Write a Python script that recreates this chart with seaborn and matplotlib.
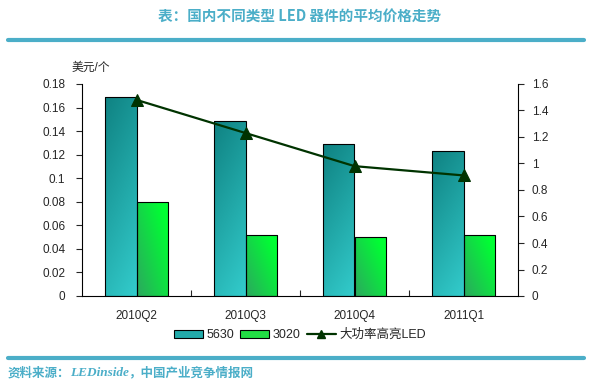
import numpy as np
import pandas as pd
import matplotlib
matplotlib.use("Agg")
import matplotlib.pyplot as plt
import seaborn as sns
from matplotlib.colors import LinearSegmentedColormap
from matplotlib.patches import Patch
from matplotlib.lines import Line2D

# dati
quarters = ["2010Q2", "2010Q3", "2010Q4", "2011Q1"]
price_5630 = [0.169, 0.149, 0.129, 0.123]
price_3020 = [0.080, 0.052, 0.050, 0.052]
price_hp = [1.48, 1.23, 0.98, 0.91]
series_names = ["5630", "3020", "大功率高亮LED"]

teal = "#4BAEC8"

sns.set_style("white")
plt.rcParams["font.family"] = ["Liberation Sans", "Noto Sans CJK SC"]

df = pd.DataFrame({
    "quarter": quarters * 2,
    "price": price_5630 + price_3020,
    "type": [series_names[0]] * 4 + [series_names[1]] * 4,
})

fig = plt.figure(figsize=(5.92, 3.91), dpi=100)
ax = fig.add_axes([82 / 592, 1 - 296 / 391, 436 / 592, 212 / 391])

sns.barplot(data=df, x="quarter", y="price", hue="type", width=0.57,
            palette=["#22AAAA", "#22DD44"], edgecolor="black", linewidth=0.8,
            legend=False, ax=ax)

# gradienti sulle barre
cmap_a = LinearSegmentedColormap.from_list("a", ["#0F8282", "#33CCCC"])
cmap_b = LinearSegmentedColormap.from_list("b", ["#339966", "#00FF33"])
uu, vv = np.meshgrid(np.linspace(0, 1, 40), np.linspace(0, 1, 200))
for i, bar in enumerate(ax.patches):
    x0, y0 = bar.get_x(), bar.get_y()
    w, h = bar.get_width(), bar.get_height()
    if h <= 0:
        continue
    if i < len(quarters):
        grad = 0.75 * vv + 0.25 * uu      # scuro in alto a sinistra
        cmap = cmap_a
    else:
        grad = 0.45 * (1 - vv) + 0.55 * uu + 0.15  # chiaro in alto a destra
        cmap = cmap_b
    im = ax.imshow(np.clip(grad, 0, 1), cmap=cmap, vmin=0, vmax=1,
                   extent=[x0, x0 + w, y0, y0 + h],
                   origin="upper", aspect="auto", zorder=1.5, interpolation="bilinear")
    im.set_clip_path(bar)
    bar.set_facecolor("none")
    bar.set_zorder(2)

ax.set_xlim(-0.5, 3.5)
ax.set_ylim(0, 0.18)
ax.set_yticks(np.arange(0, 0.181, 0.02))
ax.set_yticklabels(["0"] + [f"{v:g}" for v in np.arange(0.02, 0.181, 0.02)])
ax.set_xlabel("")
ax.set_ylabel("")
ax.set_xticks([0, 1, 2, 3])
ax.set_xticklabels(quarters)
ax.set_xticks([0.5, 1.5, 2.5], minor=True)
ax.tick_params(axis="x", which="major", length=0, pad=10, labelsize=8.5)
ax.tick_params(axis="x", which="minor", direction="in", length=4, width=0.8, bottom=True)
ax.tick_params(axis="y", direction="out", length=4, width=0.8, left=True, labelsize=8.5, pad=8)
for s in ["left", "bottom"]:
    ax.spines[s].set_color("black")
    ax.spines[s].set_linewidth(0.8)
ax.spines["top"].set_visible(False)
ax.spines["right"].set_visible(False)

ax2 = ax.twinx()
sns.lineplot(x=np.arange(len(quarters)), y=price_hp, color="#003300", linewidth=1.6,
             marker="^", markersize=8, markeredgecolor="#003300", ax=ax2)
ax2.set_ylim(0, 1.6)
ax2.set_yticks(np.arange(0, 1.61, 0.2))
ax2.set_yticklabels(["0"] + [f"{v:g}" for v in np.arange(0.2, 1.61, 0.2)])
ax2.tick_params(axis="y", direction="out", length=4, width=0.8, right=True, labelsize=8.5, pad=6)
ax2.spines["right"].set_color("black")
ax2.spines["right"].set_linewidth(0.8)
for s in ["left", "top", "bottom"]:
    ax2.spines[s].set_visible(False)
ax2.set_xlim(-0.5, 3.5)

fig.text(72 / 592, 1 - 68 / 391, "美元/个", fontsize=8.5, va="center", ha="left")

handles = [
    Patch(facecolor="#22AAAA", edgecolor="black", linewidth=0.8),
    Patch(facecolor="#22DD44", edgecolor="black", linewidth=0.8),
    Line2D([], [], color="#003300", linewidth=1.6, marker="^", markersize=6),
]
fig.legend(handles, series_names, loc="center", bbox_to_anchor=(300 / 592, 1 - 335 / 391),
           ncol=3, frameon=False, fontsize=9, handlelength=2.3, handleheight=0.6,
           handletextpad=0.3, columnspacing=0.5, borderpad=0)

# titolo, linee e fonte
fig.text(300 / 592, 1 - 16 / 391, "表：国内不同类型 LED 器件的平均价格走势", fontsize=10.5,
         fontweight="bold", color=teal, ha="center", va="center",
         family=["Noto Sans CJK SC"])
for yy in [40, 358]:
    fig.add_artist(Line2D([8 / 592, 584 / 592], [1 - yy / 391] * 2, color=teal,
                          linewidth=3, transform=fig.transFigure))
t1 = fig.text(8 / 592, 1 - 373 / 391, "资料来源：", fontsize=9, fontweight="bold",
              color=teal, ha="left", va="center", family=["Noto Sans CJK SC"])
fig.canvas.draw()
r = fig.canvas.get_renderer()
bb = t1.get_window_extent(r)
t2 = fig.text(bb.x1 / fig.bbox.width, 1 - 373 / 391, "LEDinside", fontsize=9.5,
              fontstyle="italic", fontweight="bold", color=teal, ha="left", va="center",
              family=["Liberation Serif"])
bb2 = t2.get_window_extent(r)
fig.text(bb2.x1 / fig.bbox.width, 1 - 373 / 391, "，中国产业竞争情报网", fontsize=9,
         fontweight="bold", color=teal, ha="left", va="center", family=["Noto Sans CJK SC"])

fig.savefig("out.png", dpi=100)
